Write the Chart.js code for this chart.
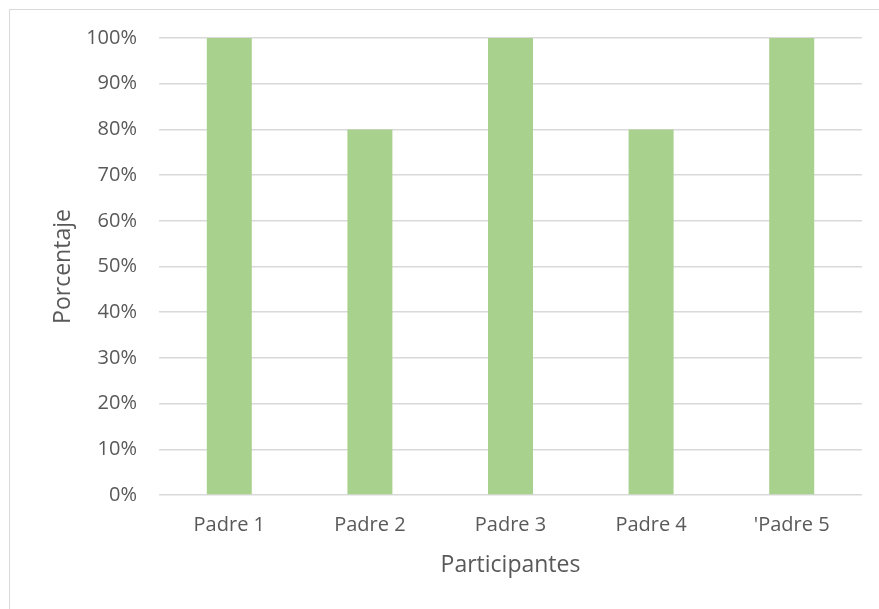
<!DOCTYPE html>
<html>
<head>
<meta charset="utf-8">
<script src="https://cdn.jsdelivr.net/npm/chart.js@4"></script>
<style>
  html, body { margin: 0; padding: 0; background: #fff; overflow: hidden; }
  #marco { position: absolute; left: 9px; top: 9px; width: 880px; height: 610px; border-left: 1px solid #d9d9d9; border-top: 1px solid #d9d9d9; box-sizing: border-box; }
  #caja { position: absolute; left: 0; top: 0; width: 879px; height: 609px; }
</style>
</head>
<body>
<div id="marco"></div>
<div id="caja"><canvas id="grafica"></canvas></div>
<script>
const participantes = ["Padre 1", "Padre 2", "Padre 3", "Padre 4", "'Padre 5"];
const porcentajes = [100, 80, 100, 80, 100];
const marcas = [0, 10, 20, 30, 40, 50, 60, 70, 80, 90, 100];

const gris = "#595959";
const fuente = { family: "'Open Sans', sans-serif", size: 20, lineHeight: 1.2 };
const fuenteTitulo = { family: "'Open Sans', sans-serif", size: 23, lineHeight: 1.2 };

new Chart(document.getElementById("grafica").getContext("2d"), {
  type: "bar",
  data: {
    labels: participantes,
    datasets: [{
      data: porcentajes,
      backgroundColor: "#a9d18e",
      categoryPercentage: 1,
      barPercentage: 0.32
    }]
  },
  options: {
    responsive: true,
    maintainAspectRatio: false,
    animation: false,
    layout: { padding: { left: 40, top: 38, right: 17, bottom: 0 } },
    plugins: {
      legend: { display: false },
      tooltip: { enabled: false }
    },
    scales: {
      x: {
        grid: { display: false, drawTicks: false },
        border: { display: false },
        ticks: { color: gris, font: fuente, padding: 18, maxRotation: 0 },
        title: { display: true, text: "Participantes", color: gris, font: fuenteTitulo, padding: { top: 0, bottom: 30 } },
        afterFit: (s) => { s.height = 114; }
      },
      y: {
        min: 0,
        max: 100,
        afterBuildTicks: (s) => { s.ticks = marcas.map(v => ({ value: v })); },
        grid: { color: "#d9d9d9", lineWidth: 1.5, drawTicks: false },
        border: { display: false },
        ticks: { color: gris, font: fuente, padding: 22, callback: (v) => v + "%" },
        title: { display: true, text: "Porcentaje", color: gris, font: fuenteTitulo, padding: { top: 10, bottom: 0 } },
        afterFit: (s) => { s.width = 119; }
      }
    }
  }
});
</script>
</body>
</html>
